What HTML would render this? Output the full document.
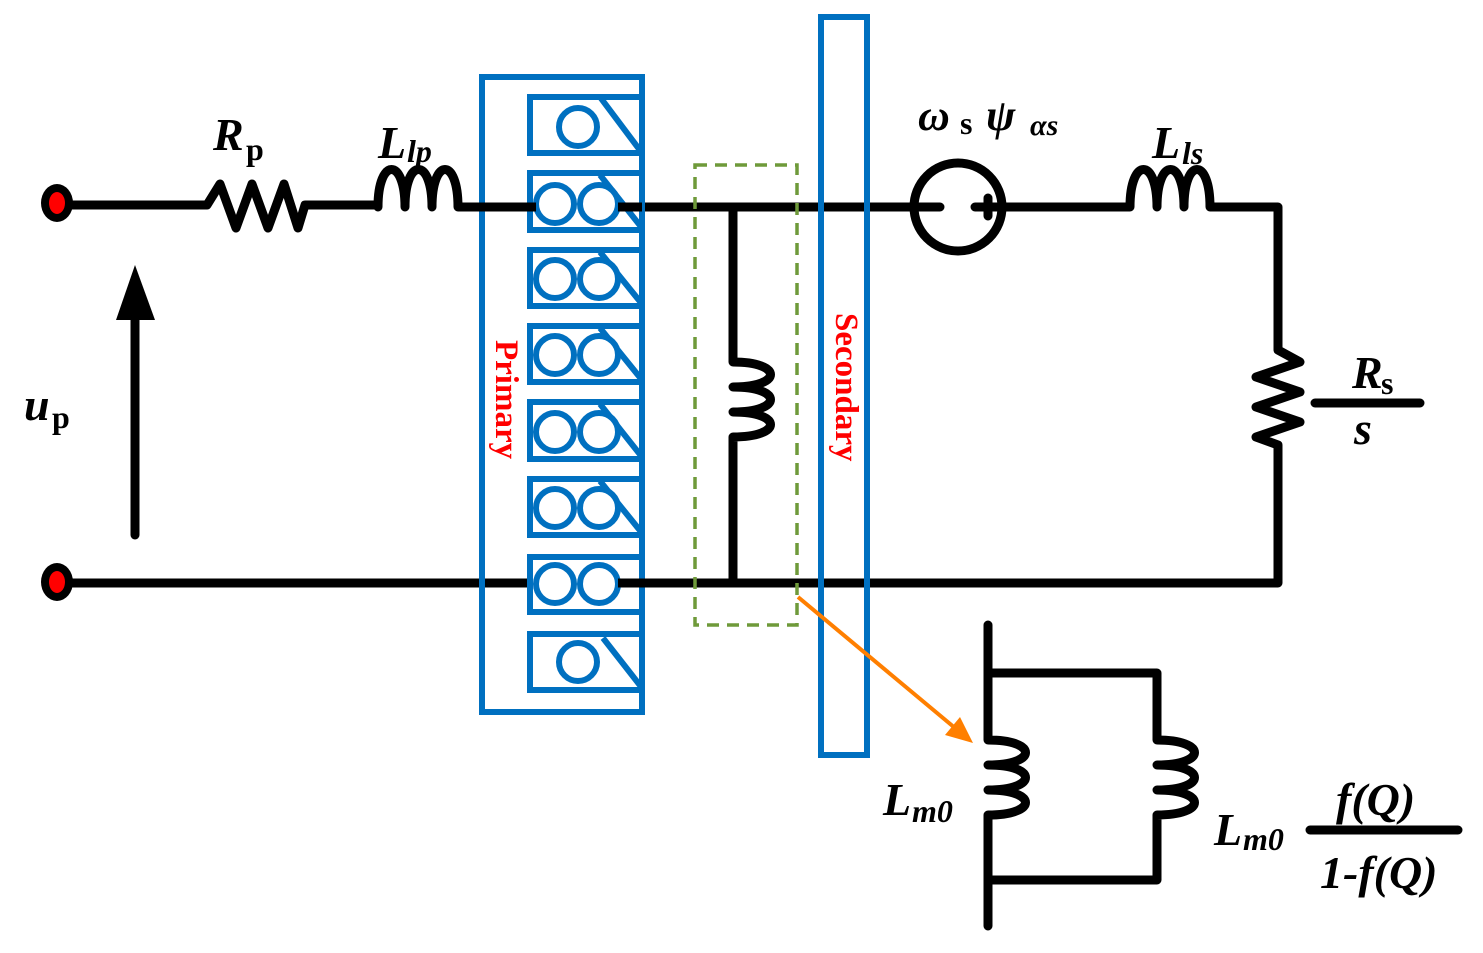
<!DOCTYPE html>
<html><head><meta charset="utf-8"><style>
html,body{margin:0;padding:0;background:#fff}
svg{display:block}
text{font-family:"Liberation Serif",serif;font-weight:bold}
</style></head><body>
<svg width="1483" height="953" viewBox="0 0 1483 953" xmlns="http://www.w3.org/2000/svg">
<g stroke="#000" stroke-width="9" fill="none" stroke-linecap="round" stroke-linejoin="round">
<path d="M58 205 H207 L220 184 L236 228 L252 184 L268 228 L284 184 L298 228 L305 205 H378"/>
<path d="M378 207 c0 -50 27 -50 27 0 c0 -50 27 -50 27 0 c0 -50 26 -50 26 0 H910"/>
<path d="M1003 207 H1130 c0 -50 27 -50 27 0 c0 -50 27 -50 27 0 c0 -50 26 -50 26 0 H1278 V350 L1300 362 L1256 377 L1300 392 L1256 407 L1300 422 L1256 437 L1278 445 V583 H58"/>
<path d="M733 207 V362 c50 0 50 25 0 25 c50 0 50 25 0 25 c50 0 50 25 0 25 V583"/>
<path d="M135 535 V318"/>
<circle cx="958" cy="207" r="44"/>
<path d="M910 207 H940 M975 207 H1003 M988 198 V216"/>
<path d="M1315 403 H1420 M1310 830 H1458"/>
<path d="M988 625 V740 c50 0 50 25 0 25 c50 0 50 25 0 25 c50 0 50 25 0 25 V926"/>
<path d="M988 673 H1157 V740 c50 0 50 25 0 25 c50 0 50 25 0 25 c50 0 50 25 0 25 V880 H988"/>
</g>
<polygon points="135,265 116,320 155,320" fill="#000"/>
<ellipse cx="57" cy="203" rx="16" ry="19" fill="#000"/><ellipse cx="57" cy="203" rx="8" ry="11" fill="#f00"/>
<ellipse cx="57" cy="582" rx="16" ry="19" fill="#000"/><ellipse cx="57" cy="582" rx="8" ry="11" fill="#f00"/>
<g stroke="#0070c0" stroke-width="6" fill="none">
<path d="M482 712 V77 H642 V712 Z"/>
<g fill="#fff">
<rect x="530" y="97" width="112" height="56"/>
<rect x="530" y="173" width="112" height="57"/>
<rect x="530" y="250" width="112" height="56"/>
<rect x="530" y="326" width="112" height="56"/>
<rect x="530" y="402" width="112" height="57"/>
<rect x="530" y="479" width="112" height="56"/>
<rect x="530" y="557" width="112" height="55"/>
<rect x="530" y="634" width="112" height="56"/>
</g>
<path d="M600 97 L642 153 M600 175 L642 228 M600 252 L642 304 M600 328 L642 380 M600 404 L642 457 M600 481 L642 533 M603 638 L642 688"/>
<g fill="#fff">
<circle cx="578" cy="127" r="19"/><circle cx="578" cy="662" r="19"/>
<circle cx="555" cy="204" r="19"/><circle cx="599" cy="204" r="19"/>
<circle cx="555" cy="279" r="19"/><circle cx="599" cy="279" r="19"/>
<circle cx="555" cy="355" r="19"/><circle cx="599" cy="355" r="19"/>
<circle cx="555" cy="432" r="19"/><circle cx="599" cy="432" r="19"/>
<circle cx="555" cy="508" r="19"/><circle cx="599" cy="508" r="19"/>
<circle cx="555" cy="584" r="19"/><circle cx="599" cy="584" r="19"/>
</g>
<rect x="821" y="17" width="46" height="738"/>
</g>
<path d="M460 207 H536 M618 207 H642 M618 583 H642 M642 583 H660" stroke="#000" stroke-width="9"/>
<rect x="695" y="165" width="102" height="460" fill="none" stroke="#6f9a3a" stroke-width="3.5" stroke-dasharray="12,8"/>
<line x1="798" y1="597" x2="955" y2="728" stroke="#ff7f00" stroke-width="4"/>
<polygon points="973,743 945,735 960,717" fill="#ff7f00"/>
<g font-style="italic">
<text x="213" y="150" font-size="46">R</text>
<text x="378" y="158" font-size="46">L</text><text x="407" y="162" font-size="32">lp</text>
<text x="918" y="130" font-size="44">ω</text><text x="986" y="130" font-size="44">ψ</text><text x="1030" y="135" font-size="30">αs</text>
<text x="1152" y="158" font-size="46">L</text><text x="1182" y="164" font-size="32">ls</text>
<text x="1352" y="388" font-size="46">R</text>
<text x="1354" y="444" font-size="46">s</text>
<text x="24" y="420" font-size="46">u</text>
<text x="883" y="815" font-size="46">L</text><text x="912" y="822" font-size="32">m0</text>
<text x="1214" y="845" font-size="46">L</text><text x="1243" y="850" font-size="32">m0</text>
<text x="1336" y="815" font-size="46">f(Q)</text>
<text x="1320" y="888" font-size="46">1-f(Q)</text>
</g>
<text x="246" y="160" font-size="32">p</text>
<text x="960" y="134" font-size="32">s</text>
<text x="1381" y="394" font-size="32">s</text>
<text x="52" y="428" font-size="32">p</text>
<text transform="translate(496,340) rotate(90)" font-size="33" fill="#f00">Primary</text>
<text transform="translate(836,313) rotate(90)" font-size="33" fill="#f00">Secondary</text>
</svg>
</body></html>
